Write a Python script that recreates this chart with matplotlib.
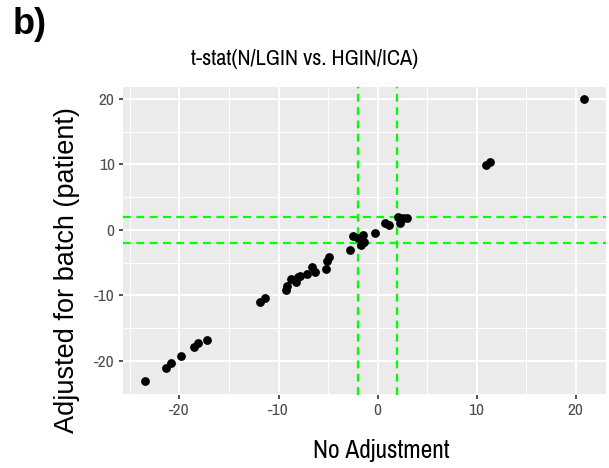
import numpy as np
import matplotlib
matplotlib.use("Agg")
import matplotlib.pyplot as plt

# t-statistics: no adjustment vs adjusted for batch (patient)
no_adj = [-23.5, -21.4, -20.9, -19.8, -18.5, -18.1, -17.2,
          -11.9, -11.4, -9.2, -9.1, -8.7, -8.2, -8.0, -7.85, -7.1,
          -6.6, -6.3, -5.2, -5.15, -4.9, -2.8, -2.5, -1.96, -1.7,
          -1.45, -1.35, -0.24, 0.8, 1.2, 2.1, 2.25, 2.6, 3.0,
          10.9, 11.4, 20.8]
adj_batch = [-23.1, -21.1, -20.3, -19.3, -17.8, -17.3, -16.8,
             -11.0, -10.4, -9.1, -8.6, -7.5, -8.0, -7.2, -7.0, -6.8,
             -5.7, -6.4, -6.0, -4.8, -4.1, -3.0, -1.0, -1.3, -2.3,
             -0.8, -1.8, -0.5, 1.1, 0.7, 1.9, 1.1, 1.8, 1.8,
             9.9, 10.4, 19.9]
cutoff = 1.96
ticks = [-20, -10, 0, 10, 20]
minor_ticks = [-25, -15, -5, 5, 15]

plt.rcParams['font.family'] = ['Liberation Sans Narrow', 'Archivo Narrow', 'DejaVu Sans']
plt.rcParams['axes.unicode_minus'] = False

fig = plt.figure(figsize=(6.09, 4.68), dpi=100)
ax = fig.add_axes([0.202, 0.156, 0.793, 0.658])
ax.set_facecolor('#EBEBEB')

ax.set_xlim(-25.7, 23.06)
ax.set_ylim(-25.2, 21.8)
ax.set_xticks(ticks)
ax.set_yticks(ticks)
ax.set_xticks(minor_ticks, minor=True)
ax.set_yticks(minor_ticks, minor=True)
ax.grid(True, which='major', color='white', linewidth=1.4)
ax.grid(True, which='minor', color='white', linewidth=0.7)
ax.set_axisbelow(True)
for s in ax.spines.values():
    s.set_visible(False)
ax.tick_params(which='major', length=3, width=1.2, color='#333333',
               labelcolor='#4D4D4D', labelsize=12.5, pad=3)
ax.tick_params(which='minor', length=0)

for c in (-cutoff, cutoff):
    ax.axvline(c, color='#00FF00', lw=1.6, dashes=(3.5, 2.5), zorder=3)
    ax.axhline(c, color='#00FF00', lw=1.6, dashes=(3.5, 2.5), zorder=3)

ax.scatter(no_adj, adj_batch, s=40, color='black', zorder=4, linewidths=0)

fig.text(0.5, 0.874, 't-stat(N/LGIN vs. HGIN/ICA)', ha='center', va='center', fontsize=16)
fig.text(0.626, 0.038, 'No Adjustment', ha='center', va='center', fontsize=18.3)
fig.text(0.11, 0.423, 'Adjusted for batch (patient)', ha='center', va='center',
         rotation=90, fontsize=19.5, family=['Liberation Sans', 'DejaVu Sans'])
fig.text(0.02, 0.947, 'b)', ha='left', va='center', fontsize=26,
         fontweight='bold', family=['Liberation Sans', 'DejaVu Sans'])

fig.savefig('out.png', dpi=100)
